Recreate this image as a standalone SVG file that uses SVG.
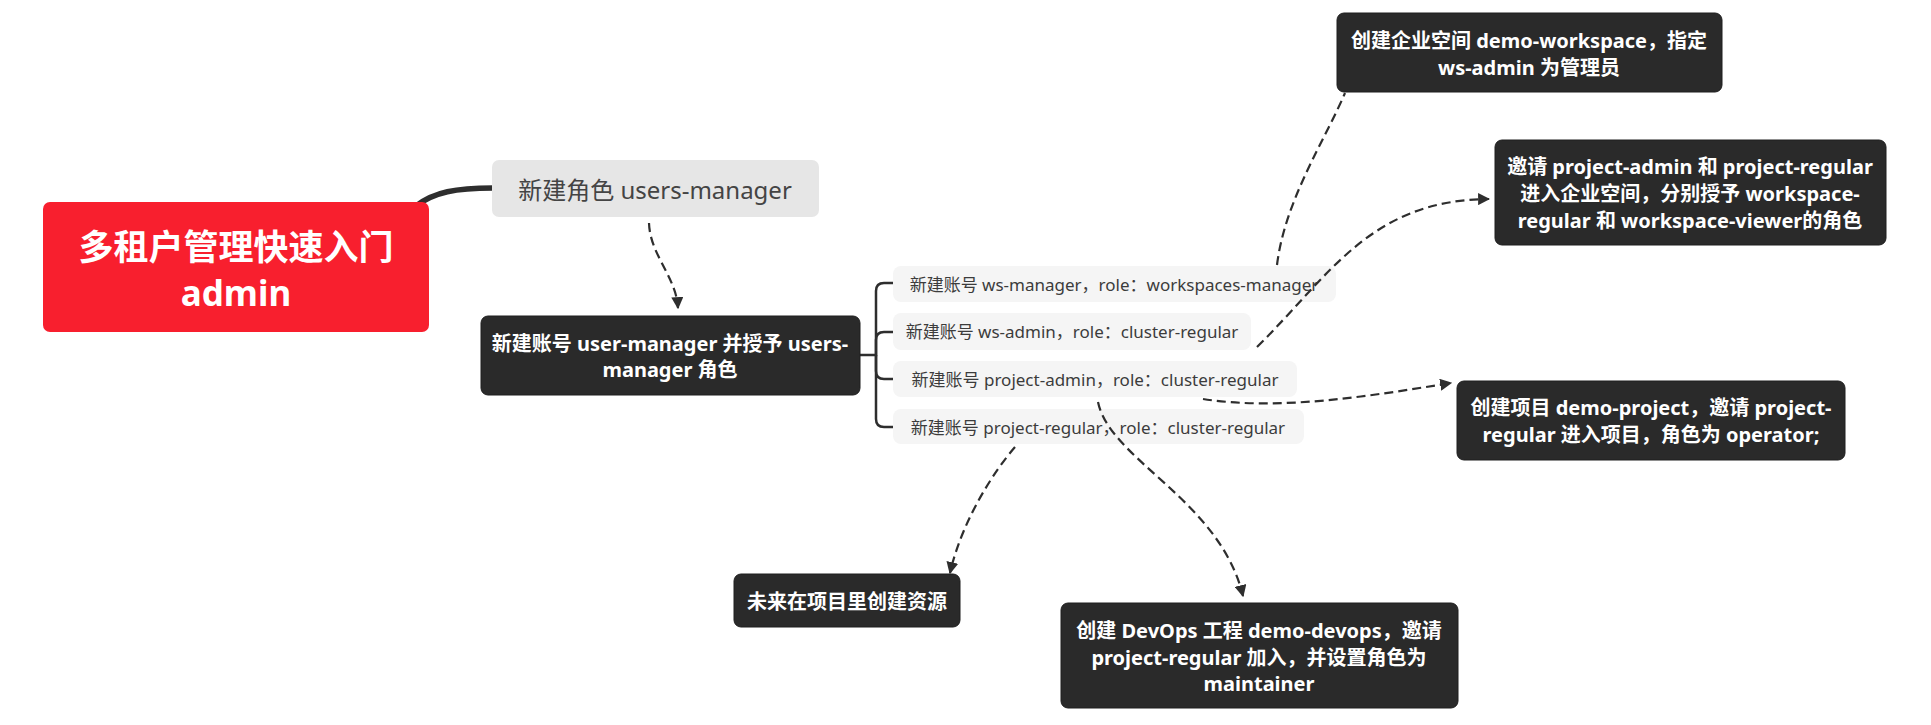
<svg xmlns="http://www.w3.org/2000/svg" width="1931" height="725" viewBox="0 0 1931 725">
<style>
text{font-family:"Noto Sans","Noto Sans CJK SC",sans-serif;text-anchor:middle;dominant-baseline:central}
.dark rect{fill:#2a2a2a;stroke:#1e1e1e;stroke-width:1}
.dark text{fill:#ffffff;font-size:20px;font-weight:bold}
.sub rect{fill:#f5f5f5}
.sub text{fill:#3c3c3c;font-size:17px}
.rel{fill:none;stroke:#2e2e2e;stroke-width:2.2;stroke-dasharray:9 5}
.branch{fill:none;stroke:#2e2e2e;stroke-width:2.5}
.main{fill:none;stroke:#2e2e2e;stroke-width:5.5}
</style>
<defs>
<marker id="arr" viewBox="0 0 10 10" refX="9" refY="5" markerWidth="5.5" markerHeight="5.5" orient="auto" markerUnits="strokeWidth">
<path d="M0,0 L10,5 L0,10 Z" fill="#2e2e2e"/>
</marker>
</defs>
<rect width="1931" height="725" fill="#ffffff"/>

<g id="branches">
<path class="main" d="M416,206 C434,192 456,188 493,188"/>
<path class="branch" d="M860,355 H876 V291 Q876,283 884,283 H893"/>
<path class="branch" d="M876,355 V340 Q876,332 884,332 H893"/>
<path class="branch" d="M876,355 V371 Q876,379 884,379 H893"/>
<path class="branch" d="M876,355 V419 Q876,427 884,427 H893"/>
</g>

<g id="root">
<rect x="43" y="202" width="386" height="130" rx="7" fill="#f81f2e"/>
<text x="236" y="246" fill="#ffffff" font-size="35" font-weight="bold">多租户管理快速入门</text>
<text x="236" y="292" fill="#ffffff" font-size="35" font-weight="bold">admin</text>
</g>

<g id="role">
<rect x="492" y="160" width="327" height="57" rx="7" fill="#e6e6e6"/>
<text x="655" y="189" fill="#444444" font-size="24">新建角色 users-manager</text>
</g>

<g id="user-manager" class="dark">
<rect x="481" y="316" width="379" height="79" rx="7"/>
<text x="670" y="343">新建账号 user-manager 并授予 users-</text>
<text x="670" y="369">manager 角色</text>
</g>

<g id="ws-manager" class="sub">
<rect x="893" y="266" width="443" height="36" rx="8"/>
<text x="1114" y="284">新建账号 ws-manager，role：workspaces-manager</text>
</g>
<g id="ws-admin" class="sub">
<rect x="893" y="313" width="358" height="37" rx="8"/>
<text x="1072" y="331">新建账号 ws-admin，role：cluster-regular</text>
</g>
<g id="project-admin" class="sub">
<rect x="893" y="361" width="404" height="36" rx="8"/>
<text x="1095" y="379">新建账号 project-admin，role：cluster-regular</text>
</g>
<g id="project-regular" class="sub">
<rect x="893" y="409" width="411" height="35" rx="8"/>
<text x="1098" y="427">新建账号 project-regular，role：cluster-regular</text>
</g>

<g id="workspace" class="dark">
<rect x="1337" y="13" width="385" height="79" rx="7"/>
<text x="1529" y="40">创建企业空间 demo-workspace，指定</text>
<text x="1529" y="67">ws-admin 为管理员</text>
</g>

<g id="invite-ws" class="dark">
<rect x="1495" y="140" width="391" height="105" rx="7"/>
<text x="1690" y="166">邀请 project-admin 和 project-regular</text>
<text x="1690" y="193">进入企业空间，分别授予 workspace-</text>
<text x="1690" y="220">regular 和 workspace-viewer的角色</text>
</g>

<g id="project" class="dark">
<rect x="1457" y="381" width="388" height="79" rx="7"/>
<text x="1651" y="407">创建项目 demo-project，邀请 project-</text>
<text x="1651" y="434">regular 进入项目，角色为 operator;</text>
</g>

<g id="resources" class="dark">
<rect x="734" y="574" width="226" height="53" rx="7"/>
<text x="847" y="601">未来在项目里创建资源</text>
</g>

<g id="devops" class="dark">
<rect x="1061" y="603" width="397" height="105" rx="7"/>
<text x="1259" y="630">创建 DevOps 工程 demo-devops，邀请</text>
<text x="1259" y="657">project-regular 加入，并设置角色为</text>
<text x="1259" y="683">maintainer</text>
</g>

<g id="connectors">
<path class="rel" d="M649,223 C650,255 676,276 678,308" marker-end="url(#arr)"/>
<path class="rel" d="M1277,265 C1285,200 1325,140 1345,93"/>
<path class="rel" d="M1257,347 C1330,275 1370,200 1489,199" marker-end="url(#arr)"/>
<path class="rel" d="M1203,399 C1280,411 1370,396 1451,383" marker-end="url(#arr)"/>
<path class="rel" d="M1015,447 C995,470 962,520 950,573" marker-end="url(#arr)"/>
<path class="rel" d="M1098,402 C1110,460 1220,500 1243,596" marker-end="url(#arr)"/>
</g>
</svg>
